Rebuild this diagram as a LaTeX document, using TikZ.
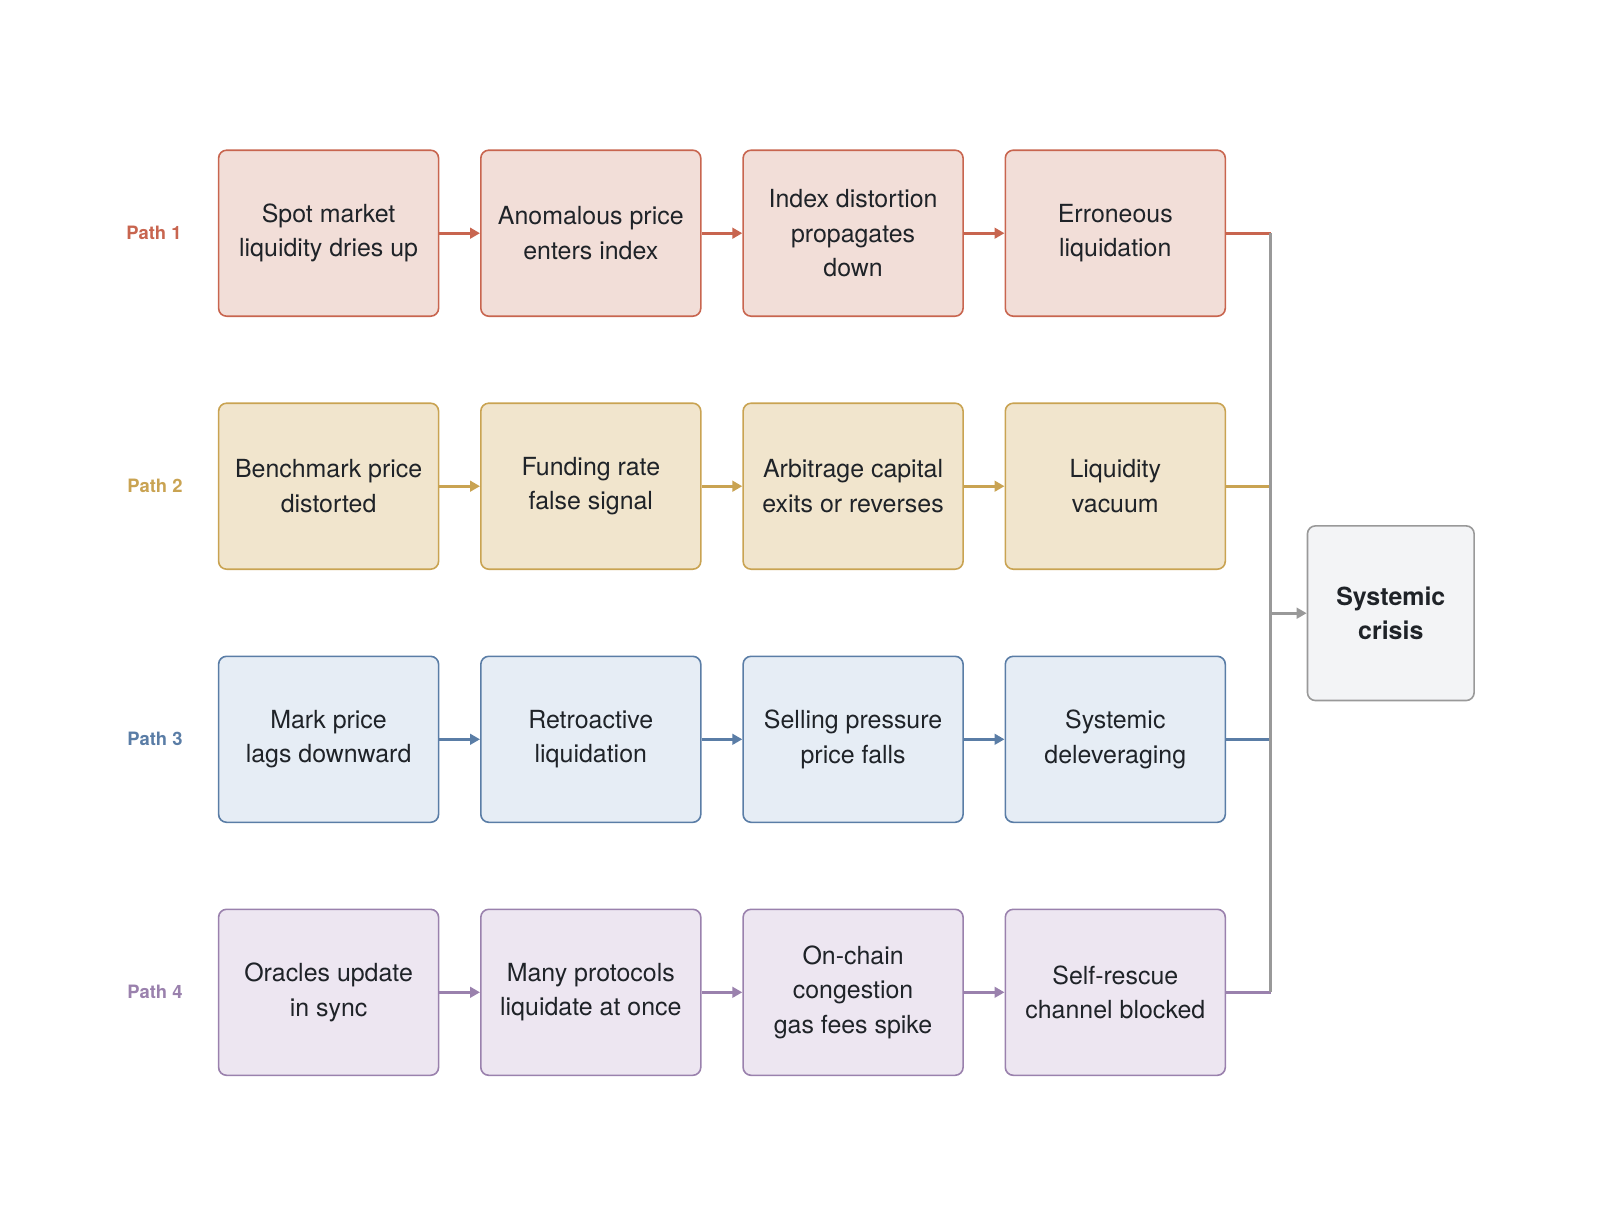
\documentclass[tikz,border=0pt]{standalone}
\usepackage{fontspec}
\setmainfont{TeX Gyre Heros}
\usetikzlibrary{arrows.meta}
\definecolor{rb}{HTML}{C8654F}\definecolor{rf}{HTML}{F2DED8}
\definecolor{yb}{HTML}{C9A352}\definecolor{yf}{HTML}{F1E5CD}
\definecolor{bb}{HTML}{5A7DA6}\definecolor{bf}{HTML}{E6EDF5}
\definecolor{pb}{HTML}{9A81AD}\definecolor{pf}{HTML}{EDE6F1}
\definecolor{gb}{HTML}{999999}\definecolor{gf}{HTML}{F3F4F6}
\definecolor{tx}{HTML}{1F2328}
\tikzset{
  x=0.75pt,y=-0.75pt,
  box/.style={draw=#1b,fill=#1f,line width=1.2pt,rounded corners=6pt,
    minimum width=165pt,minimum height=124.5pt,align=center,text=tx,
    font=\fontsize{18.7}{25.8}\selectfont},
  plabel/.style={text=#1b,font=\fontsize{13.8}{16}\selectfont\bfseries},
  link/.style={draw=#1b,line width=2pt,-{Triangle[length=7.5pt,width=8pt]}},
  feed/.style={draw=#1b,line width=2pt},
}
\begin{document}
\begin{tikzpicture}
\useasboundingbox (0,0) rectangle (1600,1231);
% row 1
\node[plabel=r] (l1) at (154,233.2) {Path 1};
\node[box=r] (a1) at (328.6,233.2) {Spot market\\liquidity dries up};
\node[box=r] (a2) at (590.8,233.2) {Anomalous price\\enters index};
\node[box=r] (a3) at (853.1,233.2) {Index distortion\\propagates\\down};
\node[box=r] (a4) at (1115.3,233.2) {Erroneous\\liquidation};
% row 2
\node[plabel=y] (l2) at (155,486.2) {Path 2};
\node[box=y] (b1) at (328.6,486.2) {Benchmark price\\distorted};
\node[box=y] (b2) at (590.8,486.2) {Funding rate\\false signal};
\node[box=y] (b3) at (853.1,486.2) {Arbitrage capital\\exits or reverses};
\node[box=y] (b4) at (1115.3,486.2) {Liquidity\\vacuum};
% row 3
\node[plabel=b] (l3) at (155,739.3) {Path 3};
\node[box=b] (c1) at (328.6,739.3) {Mark price\\lags downward};
\node[box=b] (c2) at (590.8,739.3) {Retroactive\\liquidation};
\node[box=b] (c3) at (853.1,739.3) {Selling pressure\\price falls};
\node[box=b] (c4) at (1115.3,739.3) {Systemic\\deleveraging};
% row 4
\node[plabel=p] (l4) at (155,992.3) {Path 4};
\node[box=p] (d1) at (328.6,992.3) {Oracles update\\in sync};
\node[box=p] (d2) at (590.8,992.3) {Many protocols\\liquidate at once};
\node[box=p] (d3) at (853.1,992.3) {On-chain\\congestion\\gas fees spike};
\node[box=p] (d4) at (1115.3,992.3) {Self-rescue\\channel blocked};
% crisis
\node[draw=gb,fill=gf,line width=1.2pt,rounded corners=6pt,minimum width=125pt,
  minimum height=131pt,align=center,text=tx,
  font=\fontsize{18.7}{25.8}\selectfont\bfseries] (s) at (1390.8,613.2) {Systemic\\crisis};
% chain arrows
\foreach \r/\c in {a/r,b/y,c/b,d/p}{
  \draw[link=\c] (\r1) -- (\r2);
  \draw[link=\c] (\r2) -- (\r3);
  \draw[link=\c] (\r3) -- (\r4);
}
% bus
\coordinate (t1) at (1270.7,233.2);
\coordinate (t2) at (1270.7,486.2);
\coordinate (t3) at (1270.7,739.3);
\coordinate (t4) at (1270.7,992.3);
\coordinate (tm) at (1270.7,613.2);
\draw[feed=r] (a4.east) -- (t1);
\draw[feed=y] (b4.east) -- (t2);
\draw[feed=b] (c4.east) -- (t3);
\draw[feed=p] (d4.east) -- (t4);
\draw[draw=gb,line width=2pt] (t1) -- (t4);
\draw[link=g] (tm) -- (s.west);
\end{tikzpicture}
\end{document}
